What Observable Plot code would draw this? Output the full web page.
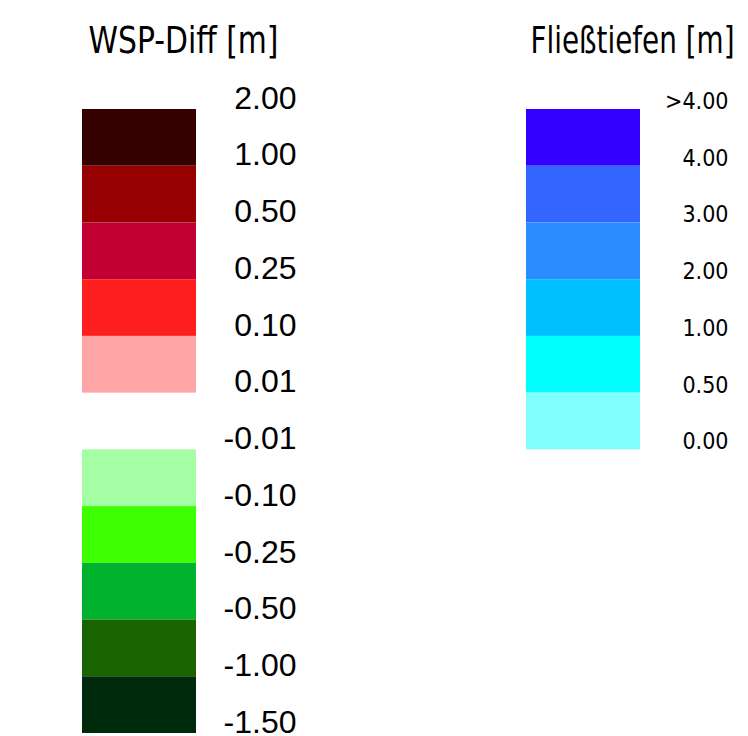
<!DOCTYPE html>
<html>
<head>
<meta charset="utf-8">
<script src="https://cdn.jsdelivr.net/npm/d3@7"></script>
<script src="https://cdn.jsdelivr.net/npm/@observablehq/plot@0.6"></script>
<style>
  html, body { margin: 0; padding: 0; background: #fff; }
  #chart svg { display: block; }
</style>
</head>
<body>
<div id="chart"></div>
<script>
// ---- data ----
const wspTitle = "WSP-Diff [m]";
const wspLabels = ["2.00","1.00","0.50","0.25","0.10","0.01","-0.01","-0.10","-0.25","-0.50","-1.00","-1.50"];
const wspColors = ["#350000","#960000","#c30032","#ff1e1e","#ffa5a5",null,"#a5ffa5","#3cff00","#00b22d","#1a6400","#002a0c"];

const flTitle = "Fließtiefen [m]";
const flLabels = [">4.00","4.00","3.00","2.00","1.00","0.50","0.00"];
const flColors = ["#3300ff","#3366ff","#2b8cff","#00c0ff","#00ffff","#80ffff"];

// ---- layout (styles) ----
const W = 748, H = 736;
const wspBox = [82, 196], wspLabelX = 296, wspTitleX = 183, wspTitleW = 190;
const flBox = [526, 640], flLabelX = 728, flTitleX = 632, flTitleW = 204;
const narrow = "'DejaVu Sans Condensed', 'DejaVu Sans', sans-serif";

const wspRows = wspColors.map((c, i) => ({i, c})).filter(d => d.c);
const flRows = flColors.map((c, i) => ({i, c}));
const wspLab = wspLabels.map((t, i) => ({i, t}));
const flLab = flLabels.map((t, i) => ({i, t}));

const chart = Plot.plot({
  width: W, height: H,
  margin: 0,
  x: {type: "linear", domain: [0, W], range: [0, W], axis: null},
  y: {type: "linear", domain: [0, 11], range: [109, 733], axis: null},
  marks: [
    Plot.rect(wspRows, {x1: () => wspBox[0], x2: () => wspBox[1], y1: "i", y2: d => d.i + 1, fill: "c"}),
    Plot.rect(flRows, {x1: () => flBox[0], x2: () => flBox[1], y1: "i", y2: d => d.i + 1, fill: "c"}),
    Plot.text(wspLab, {x: () => wspLabelX, y: "i", text: "t", textAnchor: "end", dy: -11,
      fontFamily: "'Liberation Sans', Arial, sans-serif", fontSize: 32, fill: "#000"}),
    Plot.text(flLab, {x: () => flLabelX, y: "i", text: "t", textAnchor: "end", dy: -8,
      fontFamily: narrow, fontSize: 23, fill: "#000"}),
    Plot.text([wspTitle], {x: () => wspTitleX, frameAnchor: "top", lineAnchor: "middle", dy: 40, text: d => d,
      fontFamily: narrow, fontSize: 38, fill: "#000", className: "t-wsp"}),
    Plot.text([flTitle], {x: () => flTitleX, frameAnchor: "top", lineAnchor: "middle", dy: 40, text: d => d,
      fontFamily: narrow, fontSize: 38, fill: "#000", className: "t-fl"})
  ]
});
d3.select(chart).selectAll(".t-wsp text").attr("textLength", wspTitleW).attr("lengthAdjust", "spacingAndGlyphs");
d3.select(chart).selectAll(".t-fl text").attr("textLength", flTitleW).attr("lengthAdjust", "spacingAndGlyphs");
document.getElementById("chart").append(chart);
</script>
</body>
</html>
